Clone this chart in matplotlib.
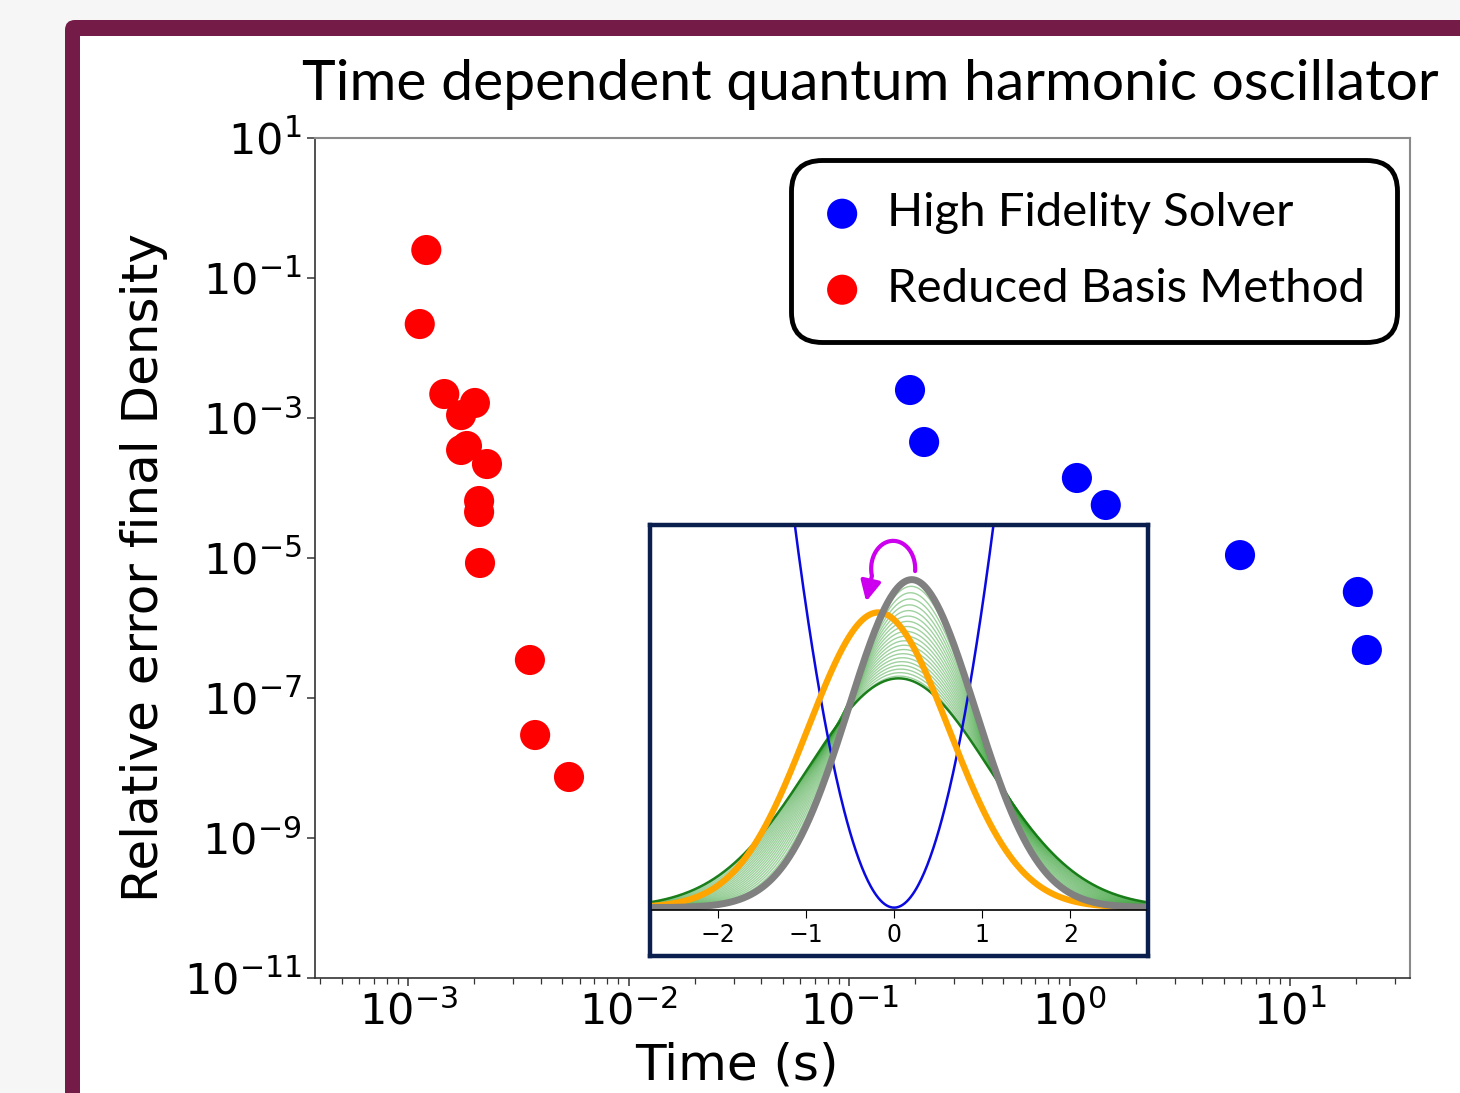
import numpy as np
import matplotlib
matplotlib.use('Agg')
import matplotlib.pyplot as plt
from matplotlib.patches import FancyBboxPatch, Rectangle, FancyArrowPatch
from matplotlib.path import Path
from matplotlib.ticker import NullLocator

# main chart data
hf_time = [0.189, 0.219, 1.08, 1.46, 5.93, 20.3, 22.3]
hf_err = [2.51e-3, 4.54e-4, 1.39e-4, 5.72e-5, 1.10e-5, 3.27e-6, 4.85e-7]

rb_time = [0.00121, 0.00113, 0.00146, 0.00174, 0.00201, 0.00174, 0.00185,
           0.00228, 0.00210, 0.00210, 0.00212, 0.00357, 0.00377, 0.00537]
rb_err = [0.251, 0.0220, 2.20e-3, 1.10e-3, 1.64e-3, 3.49e-4, 3.98e-4,
          2.20e-4, 6.52e-5, 4.54e-5, 8.49e-6, 3.49e-7, 2.96e-8, 7.44e-9]

ytick_vals = [1e1, 1e-1, 1e-3, 1e-5, 1e-7, 1e-9, 1e-11]

# inset: densities (center, width) and the trap curvature
gray_center, gray_width = 0.20, 0.72
orange_center, orange_width = -0.18, 0.80
green_centers = [0.20, 0.193, 0.186, 0.179, 0.172, 0.165, 0.158, 0.151, 0.144, 0.137, 0.130,
                 0.123, 0.116, 0.109, 0.102, 0.095, 0.088, 0.081, 0.074, 0.067, 0.060, 0.050]
green_widths = [0.72, 0.735, 0.75, 0.765, 0.78, 0.795, 0.81, 0.825, 0.84, 0.855, 0.87,
                0.885, 0.90, 0.915, 0.93, 0.945, 0.96, 0.975, 0.99, 1.005, 1.02, 1.03]
trap_coef = 0.508
inset_ticks = [-2, -1, 0, 1, 2]

W, H = 1460, 1093
fig = plt.figure(figsize=(W / 100, H / 100), dpi=100)
fig.patch.set_facecolor('#f6f6f6')

# slide frame drawn in pixel coordinates
bg = fig.add_axes([0, 0, 1, 1])
bg.set_xlim(0, W)
bg.set_ylim(H, 0)
bg.axis('off')
bg.add_patch(FancyBboxPatch((65, 20), 1420, 1100, boxstyle='round,pad=0,rounding_size=10',
                            facecolor='#741b47', edgecolor='none'))
bg.add_patch(Rectangle((80, 36), 1400, 1100, facecolor='white', edgecolor='none'))

ax = fig.add_axes([315 / W, 1 - 978 / H, 1095 / W, 840 / H])
ax.set_xscale('log')
ax.set_yscale('log')
ax.scatter(hf_time, hf_err, s=470, c='blue', edgecolors='none', label='High Fidelity Solver', zorder=3)
ax.scatter(rb_time, rb_err, s=470, c='red', edgecolors='none', label='Reduced Basis Method', zorder=3)
ax.set_xlim(10 ** -3.422, 10 ** 1.544)
ax.set_ylim(1e-11, 1e1)
ax.set_yticks(ytick_vals)
ax.yaxis.set_minor_locator(NullLocator())
ax.tick_params(axis='both', which='major', labelsize=31, length=6, width=1.1, color='#333333')
ax.tick_params(axis='x', which='minor', length=4, width=0.9, color='#333333')
for s in ['left', 'bottom']:
    ax.spines[s].set_color('#333333')
    ax.spines[s].set_linewidth(1.2)
for s in ['top', 'right']:
    ax.spines[s].set_color('#8a8a8a')
    ax.spines[s].set_linewidth(1.5)

ax.set_ylabel('Relative error final Density', fontsize=36)
ax.yaxis.set_label_coords(-0.134, 0.489)
ax.set_xlabel('Time (s)', fontsize=36)
ax.xaxis.set_label_coords(0.385, -0.075)

leg = ax.legend(loc='upper right', bbox_to_anchor=(1397 / W, 1 - 160 / H), bbox_transform=fig.transFigure,
                prop={'family': 'Lato', 'size': 34}, handlelength=0.8, handletextpad=0.55,
                labelspacing=0.72, borderpad=0.68, borderaxespad=0, fancybox=True, framealpha=1)
frame = leg.get_frame()
frame.set_edgecolor('black')
frame.set_linewidth(3.5)
frame.set_boxstyle('round,pad=0,rounding_size=0.65')

fig.text(870 / W, 1 - 84 / H, 'Time dependent quantum harmonic oscillator', ha='center', va='center',
         fontsize=41, family='Lato')

# inset box
ax_box = fig.add_axes([650 / W, 1 - 956 / H, 498 / W, 431 / H])
ax_box.set_xticks([])
ax_box.set_yticks([])
for s in ax_box.spines.values():
    s.set_color('#0b1f4f')
    s.set_linewidth(3.2)

ax_in = fig.add_axes([652 / W, 1 - 910 / H, 494 / W, 383 / H])
ax_in.patch.set_alpha(0)
x = np.linspace(-2.75, 2.86, 500)


def density(c, w):
    return np.exp(-0.5 * ((x - c) / w) ** 2) / (w * np.sqrt(2 * np.pi))


for c, w in zip(green_centers, green_widths):
    ax_in.plot(x, density(c, w), color='#2a9a2a', lw=1.0, alpha=0.45)
ax_in.plot(x, density(green_centers[-1], green_widths[-1]), color='#137a13', lw=1.8, alpha=0.95)
ax_in.plot(x, trap_coef * x ** 2, color='#0a0ae0', lw=1.8)
ax_in.plot(x, density(orange_center, orange_width), color='#ffa500', lw=4.5)
ax_in.plot(x, density(gray_center, gray_width), color='#808080', lw=5)

# magenta rotation arrow: an arc over the peak, ending with a head pointing down-left
ang = np.radians(np.linspace(-5, 195, 40))
arc = np.column_stack([-0.011 + 0.25 * np.cos(ang), 0.5726 + 0.047 * np.sin(ang)])
arc = np.vstack([arc, [-0.318, 0.517]])
ax_in.add_patch(FancyArrowPatch(path=Path(arc), arrowstyle='-|>', mutation_scale=30,
                                color='#cc00ee', lw=3))
ax_in.set_xlim(-2.75, 2.86)
ax_in.set_ylim(-0.004, 0.643)
ax_in.set_xticks(inset_ticks)
ax_in.set_yticks([])
ax_in.tick_params(axis='x', labelsize=17, length=6)
for s in ['top', 'left', 'right']:
    ax_in.spines[s].set_visible(False)
ax_in.spines['bottom'].set_linewidth(1.2)

fig.savefig('out.png', dpi=100)
